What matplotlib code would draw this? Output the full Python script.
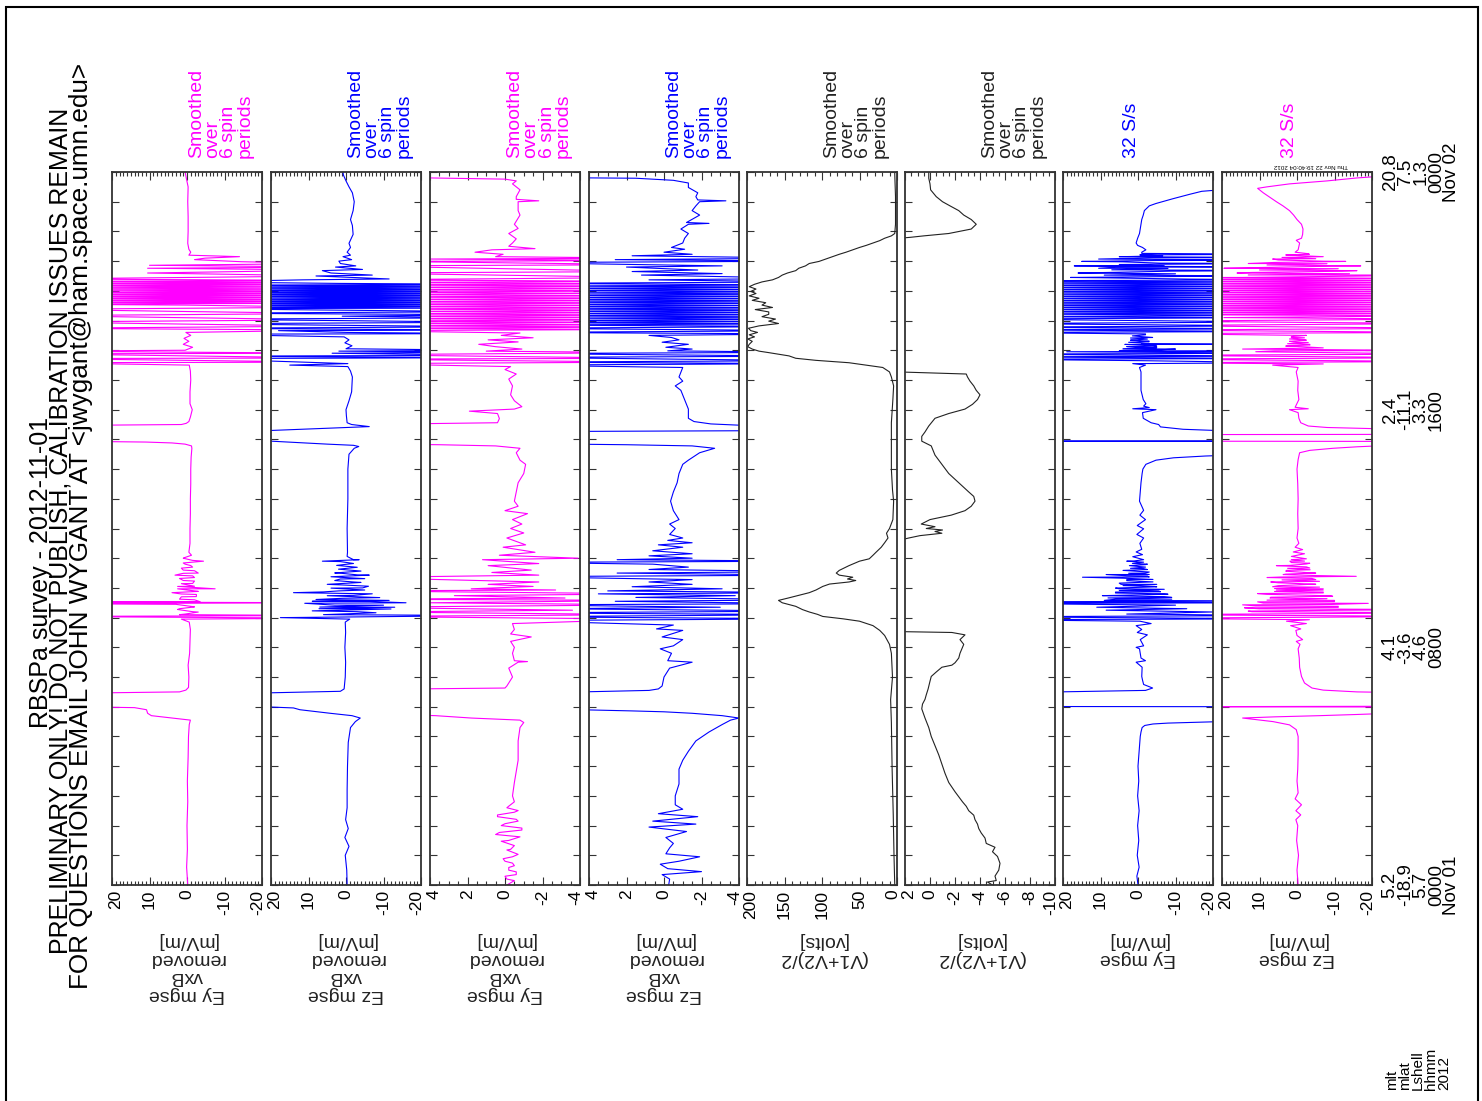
import numpy as np
import matplotlib.pyplot as plt
from matplotlib.patches import Rectangle
from matplotlib.transforms import ScaledTranslation

plt.rcParams['font.family'] = ['Liberation Sans', 'DejaVu Sans']

W, H = 1482, 1101

# (hour of day, value) pairs; points outside the axis range are clipped by the panel
EY_SMOOTH = [
    (0, -0.2), (0.6, 0.1), (1.2, -0.1), (2.0, 0.0), (2.8, -0.2), (3.5, -0.1), (4.3, -0.3), (5.0, -0.4),
    (5.4, -0.6), (5.55, -0.9), (5.62, 4), (5.7, 9.5), (5.78, 10.5), (5.9, 10.8), (5.97, 14), (6.02, 40),
    (6.44, 40), (6.5, 2), (6.56, 0.3), (6.65, -0.4), (7.0, -0.5), (7.4, -0.3), (7.8, -0.7), (8.2, -0.8),
    (8.6, -0.9), (8.85, -0.6), (8.95, 1.5), (8.98, -40), (9.04, 40), (9.07, -40), (9.12, 0.5), (9.2, -1.5),
    (9.3, 2), (9.38, -1), (9.47, 40), (9.5, -40), (9.53, 40), (9.6, -2), (9.7, 1.5), (9.78, -2.5), (9.84, 4),
    (9.9, -2), (9.97, -7.5), (10.05, 2.5), (10.15, -1.5), (10.25, 1), (10.35, -2), (10.43, 3.2), (10.5, -3),
    (10.6, 1), (10.7, -1.5), (10.8, 0.5), (10.9, -4.4), (11.0, 1), (11.1, -1.2), (11.2, -0.5), (11.5, -0.8),
    (12.0, -0.8), (12.5, -0.9), (13.0, -0.9), (13.5, -1.0), (14.0, -1.0), (14.4, -1.1), (14.7, -1.3),
    (14.78, -1.2), (14.84, 0.5), (14.88, 4), (14.91, 11), (14.95, 40), (15.46, 40), (15.5, 1.5), (15.54, 0.2),
    (15.6, -0.5), (15.75, -0.9), (16.0, -1.4), (16.2, -0.8), (16.6, -0.8), (17.0, -1.0), (17.3, -0.9),
    (17.5, -0.6), (17.58, 40), (17.6, -40), (17.72, 40), (17.74, -40), (17.88, 40), (17.9, -40), (17.97, 40),
    (18.0, 0.5), (18.1, -1.5), (18.2, 1), (18.3, -0.5), (18.4, 0.8), (18.5, -1), (18.6, 0.3), (18.68, -40),
    (20.4, 40), (20.5, -40), (20.6, 10.5), (20.7, -40), (20.76, 10.5), (20.8, -40), (20.86, 10), (20.92, -40),
    (20.98, -14.6), (21.05, -2), (21.1, -4.8), (21.15, -14), (21.2, -0.5), (21.3, -1.0), (21.4, -0.5),
    (21.6, -0.2), (22.0, -0.3), (22.5, -0.3), (23.0, -0.2), (23.5, -0.3), (23.8, 0.2), (24, 0.5),
]
EY_SMOOTH_FILL = [
    (9.1, 11.1, [2, -3, 2.5, -2, 3, -3.5, 2, -2.5, 1.5, -3, 2.5, -2, 1.5, -2, 2, -1.5, 1, -2, 1.5, -1,
                 1, -1.5, 0.8, -1.2]),
    (18.74, 19.52, [40, -40, 1.5, 40, -40, -1, 40, -40, 2, 40, -40, 0.5]),
    (19.55, 20.35, [40, -38, 40, -40, 36, -40, 40, -35, 40, -40, 38, -40, 40, -40, 32, -40,
                    40, -40, 40, -36, 40, -40, 34, -40, 40, -40]),
]

EZ_SMOOTH = [
    (0, -0.3), (0.5, -0.2), (1.0, 0.2), (1.3, -0.8), (1.6, 0.3), (1.9, -0.6), (2.2, 0.1), (2.6, -0.3),
    (3.2, -0.3), (4.0, -0.4), (4.8, -0.6), (5.3, -1.2), (5.5, -2.5), (5.62, -3.8), (5.7, -1.6), (5.78, 4.2),
    (5.9, 12.3), (5.96, 14), (6.0, 22), (6.05, 40), (6.42, 40), (6.47, 20), (6.52, 1.5), (6.6, 0.5),
    (7.0, 0.2), (7.5, 0.1), (8.0, 0.3), (8.5, 0.1), (8.85, 0.2), (8.95, -1), (9.0, 17.5), (9.07, -40),
    (9.1, 2), (9.2, -3), (9.3, 7.2), (9.35, -13), (9.42, 3), (9.5, -16), (9.55, 9), (9.58, -11.5), (9.65, 1),
    (9.75, -2), (9.84, 14), (9.9, 1.9), (10.0, -4.4), (10.1, 1), (10.2, -2), (10.3, 1.5), (10.43, -6.2),
    (10.5, 1.9), (10.6, -0.9), (10.75, 2), (10.9, 6.3), (10.95, -3.5), (11.06, -0.3), (11.2, -0.4),
    (12.0, -0.3), (13.0, -0.5), (14.0, -0.5), (14.5, -0.8), (14.7, -2.2), (14.76, -3.4), (14.8, -2),
    (14.84, 5), (14.88, 10.8), (14.94, 20), (14.98, 40), (15.25, 40), (15.3, 20), (15.43, -6.2), (15.5, -1.5),
    (15.56, -0.3), (15.8, -0.1), (16.0, 0), (16.3, -0.8), (16.6, -1.5), (17.1, -1.7), (17.3, -1.2),
    (17.45, -0.5), (17.5, 15), (17.55, -0.5), (17.72, 40), (17.75, -40), (17.8, 40), (17.83, -40),
    (17.9, 3.7), (17.93, -40), (17.97, 1.9), (18.0, -40), (18.05, 0), (18.15, -1.6), (18.25, 0.3),
    (18.35, -0.8), (18.45, 0.5), (18.54, 40), (18.56, -40), (18.6, -0.3), (18.66, 18), (18.68, -40),
    (20.3, 40), (20.37, 11.5), (20.4, -11.5), (20.5, 8), (20.53, -7), (20.6, 4), (20.68, 6.3), (20.72, -4.4),
    (20.8, 2.8), (20.84, -2.6), (20.92, 1.5), (21.0, 1.9), (21.05, -1.5), (21.15, 0.8), (21.2, -1.2),
    (21.3, -0.3), (21.46, -1.2), (21.6, -0.8), (21.9, -1.9), (22.2, -1.7), (22.4, -1.2), (22.7, -1.9),
    (23.0, -2.2), (23.3, -1.7), (23.5, -0.8), (23.7, 0), (23.9, 0.7), (24, 0.8),
]
EZ_SMOOTH_FILL = [
    (9.1, 10.95, [6, -8, 9, -12, 7, -10, 11, -6, 8, -9, 5, -7, 6, -5, 4, -6, 5, -4, 3, -5, 4, -3, 3, -4,
                  2, -3, 2.5, -2, 1.5, -2]),
    (18.74, 19.4, [40, -40, 3, 40, -40, -2, 40, -40, 1, -40, 40, -40, 2, 40]),
    (19.42, 20.25, [-40, 40, -40, 38, -40, 40, -36, 40, -40, 40, -40, 35, -40, 40, -40, 40, -38, 40,
                    -40, 40, -40, 36, -40, 40, -40, 40, -40, 2]),
]

EY = [
    (0, -0.3), (0.2, -0.1), (0.35, -0.6), (0.5, -0.2), (0.65, -0.5), (0.8, 0), (0.95, -0.4), (1.2, -0.3),
    (1.5, -0.2), (1.7, 0.5), (1.85, -0.9), (2.0, 0.2), (2.15, -0.7), (2.3, 0.4), (2.45, -0.5), (2.6, -0.1),
    (3.0, -0.4), (3.45, -0.5), (4.2, -0.7), (4.85, -0.7), (5.3, -0.8), (5.47, -1.0), (5.55, -0.8),
    (5.62, 1.8), (5.7, 3.7), (5.78, 8), (6.58, 8), (6.63, 0), (6.7, -0.1), (7.0, -0.4), (7.3, -0.2),
    (7.5, -0.7), (7.52, -1.2), (7.55, -0.5), (7.8, -0.4), (8.0, -0.5), (8.2, -0.3), (8.35, -1.4),
    (8.45, -0.3), (8.6, -0.5), (8.8, -0.4), (8.95, -8), (9.04, 8), (9.1, -8), (9.19, 7), (9.25, -3.6),
    (9.35, 8), (9.43, -8), (9.5, 4), (9.58, -8), (9.62, 8), (9.66, -3.2), (9.74, 2.7), (9.8, -8), (9.9, 8),
    (9.93, -2.7), (9.97, 1.8), (10.05, -1.5), (10.12, 0.9), (10.2, -1.8), (10.35, 8), (10.43, -1.8),
    (10.52, 0.7), (10.6, -1.4), (10.75, 0.9), (10.82, -1.8), (10.95, 1.2), (11.0, -3.9), (11.1, 0.3),
    (11.2, -1.6), (11.37, 0.1), (11.45, -1.1), (11.68, -0.1), (11.85, -1.0), (12.0, -0.3), (12.15, -0.9),
    (12.3, -0.4), (12.5, -1.2), (12.6, 0.0), (12.75, -0.7), (12.92, -0.5), (13.23, -0.6), (13.54, -0.7),
    (13.85, -1.0), (14.16, -1.1), (14.3, -0.8), (14.55, -0.6), (14.7, -0.8), (14.78, 0.5), (14.82, 3.5),
    (14.85, 8), (15.5, 8), (15.56, 0.4), (15.7, 0.3), (15.87, 0.4), (15.95, 1.9), (16.02, -0.5),
    (16.1, -0.9), (16.3, -0.5), (16.5, -0.3), (16.8, -0.4), (17.03, -0.2), (17.2, -0.6), (17.35, 0.0),
    (17.45, -0.3), (17.55, 8), (17.6, -8), (17.7, 8), (17.73, -8), (17.85, 8), (17.92, -8), (17.97, 1),
    (18.04, -0.9), (18.12, 0.5), (18.2, 1.4), (18.28, -0.7), (18.35, 0.9), (18.42, -1.5), (18.5, 0.2),
    (18.58, -0.8), (18.66, 8), (18.7, -8), (20.37, 8), (20.45, -8), (20.6, 8), (20.65, -8), (20.84, 8),
    (20.88, -8), (20.99, 6), (21.02, -8), (21.07, 4), (21.1, -8), (21.15, 0.5), (21.23, 0.1), (21.3, 1.6),
    (21.38, 0.7), (21.42, -1.6), (21.5, -0.2), (21.61, -0.4), (21.75, -0.6), (21.93, -0.2), (22.1, -0.7),
    (22.24, -0.5), (22.55, -0.8), (22.7, -0.7), (23.0, -0.7), (23.03, -1.8), (23.08, -0.6), (23.17, -0.6),
    (23.4, -0.8), (23.6, -0.4), (23.7, -0.6), (23.76, 0), (23.8, 4), (23.85, 8), (24, 8),
]
EY_FILL = [
    (0.0, 2.8, [-0.1, -0.5, 0.0, -0.6, -0.2, -0.4, 0.1, -0.7, -0.1, -0.5, 0.2, -0.8, 0.3, -0.9, 0.0,
                -0.6, 0.4, -0.7, -0.2, -0.5]),
    (18.74, 20.32, [8, -8, 7, -8, 8, -6, 8, -8, 8, -8, 7, -8, 8, -8, 6, -8, 8, -8, 8, -7, 8, -8, 8, -8,
                    7, -8, 8, -8, 8, -6, 8, -8, 8, -8, 7, -8, 8, -8, 8, -8]),
]

EZ = [
    (0, -0.25), (0.2, -0.3), (0.35, 0.1), (0.45, -2.0), (0.55, -0.2), (0.7, 0.2), (0.8, -0.8), (0.95, -1.9),
    (1.05, -0.1), (1.25, -0.3), (1.4, -0.5), (1.6, -0.1), (1.8, -1.2), (1.95, 0.8), (2.05, -1.7), (2.15, 0.6),
    (2.3, -1.8), (2.4, 0.3), (2.55, -1.0), (2.7, -0.6), (3.0, -0.6), (3.4, -0.8), (3.9, -0.8), (4.2, -1.0),
    (4.5, -1.3), (4.85, -1.7), (5.15, -2.4), (5.4, -3.1), (5.55, -3.55), (5.62, -4.0), (5.7, -3.1),
    (5.78, -1.5), (5.83, 0), (5.86, 1.7), (5.9, 4.5), (6.45, 8), (6.55, 0.8), (6.6, 0.3), (6.7, 0.1),
    (7.0, 0), (7.3, -0.3), (7.5, -1.5), (7.55, -0.2), (7.8, -0.4), (7.95, 0.2), (8.05, -0.5), (8.26, -1.0),
    (8.35, 0.1), (8.57, -1.0), (8.62, 0.4), (8.75, -0.5), (8.9, 8), (8.96, -8), (9.03, 8), (9.1, -8),
    (9.16, 8), (9.22, -8), (9.3, 6), (9.35, -3), (9.43, 8), (9.47, -8), (9.55, 2.6), (9.6, -8), (9.68, 1.5),
    (9.74, -3.8), (9.8, 3.5), (9.84, -8), (9.9, 3), (9.97, -3.1), (10.04, 1.7), (10.12, -1.5), (10.2, 0.8),
    (10.28, -1.5), (10.38, 8), (10.43, -8), (10.5, 2.5), (10.55, -8), (10.62, 0.8), (10.7, -1.3),
    (10.8, 0.6), (10.86, 8), (10.9, -8), (10.95, 2.5), (11.0, -1.5), (11.08, 0.8), (11.15, -1.5),
    (11.25, 0.6), (11.37, -1.0), (11.45, 0.3), (11.52, -1.5), (11.6, -0.2), (11.68, -1.0), (11.8, -0.3),
    (12.0, -0.6), (12.15, -0.3), (12.3, -0.8), (12.6, -0.5), (12.92, -0.35), (13.23, -0.5), (13.54, -0.7),
    (13.85, -0.8), (14.16, -1.0), (14.3, -1.3), (14.55, -1.9), (14.7, -2.7), (14.78, -1.5), (14.82, 2.0),
    (14.86, 8), (15.26, 8), (15.3, -8), (15.45, -5), (15.52, -2.5), (15.6, -1.6), (15.71, -1.3),
    (16.02, -1.3), (16.34, -1.1), (16.65, -0.9), (16.8, -0.6), (16.96, -1.0), (17.1, -0.8), (17.42, -1.0),
    (17.5, 8), (17.55, -8), (17.6, 8), (17.65, -8), (17.76, 8), (17.8, -8), (17.89, 8), (17.93, -8),
    (17.98, -0.2), (18.04, -1.5), (18.1, -0.1), (18.2, -1.3), (18.27, 0.1), (18.35, -0.8), (18.43, -0.4),
    (18.5, 0.8), (18.55, -8), (18.6, 8), (18.66, -8), (18.74, 8), (18.8, -8), (20.25, 8), (20.3, -8),
    (20.37, 0.8), (20.42, -8), (20.53, 1.2), (20.58, -3.1), (20.65, 1.7), (20.7, -1.8), (20.8, 2.0),
    (20.84, -3.1), (20.95, 8), (21.0, -8), (21.05, 2.6), (21.1, -8), (21.18, 1.7), (21.23, -1.5), (21.3, 0),
    (21.4, -1.1), (21.46, -0.4), (21.61, -1.0), (21.77, -1.1), (21.93, -1.3), (22.08, -0.9), (22.24, -1.3),
    (22.27, -2.4), (22.3, -1.2), (22.55, -1.9), (22.7, -1.5), (22.86, -1.7), (23.0, -1.9), (23.03, -3.3),
    (23.06, -1.8), (23.17, -1.7), (23.3, -1.8), (23.48, -1.3), (23.63, -1.3), (23.72, -0.5), (23.79, 1.5),
    (23.82, 8), (24, 8),
]
EZ_FILL = [
    (18.85, 20.2, [8, -8, 8, -7, 8, -8, 6, -8, 8, -8, 8, -8, 7, -8, 8, -8, 8, -6, 8, -8, 8, -8, 8, -7,
                   8, -8, 8, -8, 6, -8, 8, -8, 8, -8, 7, -8]),
]

VAVG_1 = [
    (0, 3), (1, 4), (2.36, 5), (3.9, 6.5), (5.47, 7.5), (6.24, 8.5), (7.0, 6), (7.8, 7.5), (8.1, 10),
    (8.4, 16.5), (8.57, 23), (8.73, 32), (8.88, 50), (8.96, 72), (9.04, 99), (9.11, 106), (9.19, 117),
    (9.27, 126), (9.38, 135), (9.5, 153), (9.58, 158), (9.66, 145), (9.75, 131), (9.84, 117), (9.93, 108),
    (10.05, 99), (10.13, 90), (10.2, 64), (10.25, 55), (10.3, 66), (10.36, 59), (10.43, 77), (10.5, 81),
    (10.59, 77), (10.75, 64), (10.9, 50), (10.98, 37), (11.1, 32), (11.2, 28), (11.37, 21), (11.52, 16.5),
    (11.68, 12), (11.84, 14), (12.0, 10), (12.3, 5.5), (12.92, 4.5), (13.3, 6), (14.0, 7.5), (14.78, 7.5),
    (15.56, 7.5), (16.34, 5.5), (16.8, 4.5), (17.1, 7.5), (17.27, 10), (17.42, 19), (17.58, 64),
    (17.66, 108), (17.73, 135), (17.81, 144), (17.92, 171), (17.97, 184), (18.04, 193), (18.12, 199),
    (18.2, 197), (18.3, 193), (18.38, 199), (18.45, 190), (18.52, 197), (18.6, 186), (18.66, 195),
    (18.74, 198), (18.82, 184), (18.9, 158), (18.98, 171), (19.05, 162), (19.13, 180), (19.21, 171),
    (19.29, 171), (19.37, 189), (19.44, 166), (19.52, 180), (19.6, 175), (19.68, 193), (19.75, 184),
    (19.83, 197), (19.91, 188), (19.98, 195), (20.06, 188), (20.14, 197), (20.22, 190), (20.3, 180),
    (20.37, 166), (20.45, 158), (20.53, 153), (20.6, 146), (20.68, 135), (20.76, 131), (20.84, 122),
    (20.92, 117), (20.99, 104), (21.07, 95), (21.15, 86), (21.23, 77), (21.3, 68), (21.38, 59), (21.46, 50),
    (21.53, 41), (21.61, 32), (21.69, 23), (21.77, 16.5), (21.85, 7.5), (21.93, 3), (22.24, 2), (22.55, 2),
    (23.17, 2), (23.94, 3), (24, 3),
]

VAVG_2 = [
    (0, -5.0), (0.1, -4.6), (0.15, -5.3), (0.3, -5.2), (0.5, -5.5), (0.73, -5.6), (0.96, -5.4), (1.12, -5.0),
    (1.27, -5.2), (1.4, -4.5), (1.58, -4.4), (1.75, -4.1), (1.9, -3.9), (2.05, -3.8), (2.2, -3.6),
    (2.35, -3.5), (2.5, -3.1), (2.65, -2.9), (2.8, -2.6), (3.14, -2.0), (3.45, -1.5), (3.76, -1.2),
    (4.07, -0.95), (4.38, -0.7), (4.69, -0.4), (5.0, -0.1), (5.3, 0.1), (5.62, 0.4), (5.93, 0.66),
    (6.09, 0.6), (6.25, 0.4), (6.4, 0.3), (6.6, 0.15), (6.86, 0.0), (7.02, -0.1), (7.17, -0.5),
    (7.33, -0.95), (7.4, -1.75), (7.48, -2.0), (7.64, -2.3), (7.8, -2.4), (7.95, -2.55), (8.1, -2.7),
    (8.26, -2.4), (8.42, -2.8), (8.5, -1.75), (8.53, 2.5), (11.6, 2.5), (11.68, 1.7), (11.76, 0.8),
    (11.84, -0.95), (11.9, -0.4), (11.95, -1.0), (12.0, 0.3), (12.06, -0.4), (12.15, 0.7), (12.3, 0.0),
    (12.45, -1.7), (12.6, -2.8), (12.75, -3.3), (12.92, -3.6), (13.08, -3.5), (13.23, -3.1), (13.54, -2.3),
    (13.85, -1.5), (14.16, -0.95), (14.47, -0.4), (14.78, -0.1), (14.94, 0.66), (15.1, 0.66), (15.25, 0.4),
    (15.45, 0.1), (15.71, -0.4), (15.87, -1.5), (16.02, -2.8), (16.18, -3.4), (16.34, -3.8), (16.5, -4.0),
    (16.65, -3.7), (16.8, -3.5), (16.96, -3.2), (17.1, -3.0), (17.2, -2.9), (17.27, 2.5), (21.77, 2.5),
    (21.8, 1.6), (21.85, 0.5), (21.93, -1.5), (22.08, -3.3), (22.24, -3.7), (22.4, -3.3), (22.55, -2.7),
    (22.7, -2.3), (22.86, -1.6), (23.0, -1.0), (23.17, -0.5), (23.4, -0.05), (23.6, 0.0), (23.79, 0.1),
    (24, 0.1),
]

EY32 = [
    (0, 0), (0.3, 0.3), (0.6, -0.3), (1.0, 0.2), (1.5, -0.2), (2.0, 0.1), (2.5, -0.3), (3.0, 0.1),
    (3.5, -0.2), (4.0, 0), (4.5, -0.3), (4.84, -0.5), (5.0, -0.6), (5.15, -0.8), (5.3, -1.1), (5.37, -1.8),
    (5.42, -4), (5.45, -8), (5.47, -14), (5.5, -22), (6.0, -40), (6.01, 40), (6.46, 40), (6.55, -2),
    (6.63, -3.9), (6.75, -1.5), (6.9, -1.2), (7.02, -1.0), (7.33, -1.1), (7.5, 0.5), (7.55, -2),
    (7.64, -0.8), (7.8, -0.6), (7.95, -0.4), (8.0, 0.5), (8.05, -1.5), (8.26, -0.6), (8.42, -2.5),
    (8.5, 0.2), (8.6, -1.0), (8.73, 0.5), (8.8, -3.5), (8.88, -0.5), (8.93, 40), (8.96, -40), (9.03, 40),
    (9.07, -40), (9.12, 3), (9.19, -20), (9.25, 8.5), (9.3, -13), (9.35, 11), (9.42, -10), (9.48, 40),
    (9.5, -40), (9.53, 40), (9.56, -40), (9.62, 6), (9.68, -9), (9.74, 9.5), (9.8, -7), (9.86, 6),
    (9.9, -5.5), (9.97, 5), (10.05, -4.5), (10.12, 4.5), (10.2, -3.5), (10.28, 3), (10.36, 14.8),
    (10.4, -2.5), (10.45, 8.5), (10.5, -2), (10.59, 4), (10.65, -1.5), (10.75, 2.3), (10.8, -2.5),
    (10.9, 3), (10.95, -1.5), (11.05, 1.4), (11.12, -1.2), (11.21, 0.5), (11.3, -1.0), (11.5, -0.5),
    (11.68, -1.5), (11.8, 0.3), (11.99, -1.5), (12.1, 0.2), (12.3, -2.0), (12.45, -0.5), (12.61, -1.5),
    (12.92, -0.4), (13.23, -0.6), (13.54, -0.8), (13.85, -1.1), (14.0, -1.3), (14.16, -2.1), (14.3, -4.8),
    (14.38, -9.5), (14.44, -18), (14.47, -25), (14.93, -40), (14.94, 40), (14.95, -40), (15.28, -25),
    (15.34, -12), (15.42, -6), (15.5, -5.5), (15.56, -3.5), (15.71, -1.4), (15.9, -1.2), (16.0, -4.8),
    (16.03, 1.4), (16.07, -3), (16.12, -1.5), (16.2, -2.1), (16.34, -1.4), (16.65, -0.8), (16.96, -0.8),
    (17.27, -0.8), (17.42, -0.4), (17.5, -2.0), (17.55, 1.4), (17.58, -40), (17.65, -0.5), (17.7, 40),
    (17.72, -40), (17.78, 40), (17.8, -40), (17.87, 40), (17.9, -40), (17.95, 19), (17.97, -40), (18.0, 4),
    (18.04, -10), (18.1, 0.5), (18.14, -5), (18.2, -40), (18.22, -1), (18.3, -3), (18.35, 0.5),
    (18.43, -3.9), (18.48, 0.9), (18.55, -2), (18.6, 40), (18.63, -40), (18.69, 40), (18.72, -40),
    (18.78, 40), (18.82, -40), (18.9, 40), (18.95, -40), (19.05, 40), (19.1, -40), (19.13, 40),
    (19.18, -40), (20.33, 40), (20.37, -40), (20.45, 18), (20.5, -40), (20.6, 16), (20.68, -40),
    (20.76, 10.5), (20.8, -40), (20.84, 17), (20.92, -40), (20.99, 15), (21.03, -40), (21.07, 10.5),
    (21.12, -40), (21.15, 5), (21.18, -6.6), (21.21, -0.5), (21.23, -40), (21.26, -1), (21.3, -1.0),
    (21.38, -2.1), (21.46, -1.2), (21.53, 0.1), (21.61, 0.5), (21.77, 0.1), (21.93, -0.4), (22.24, -0.8),
    (22.4, -1.0), (22.55, -1.4), (22.7, -1.7), (22.86, -3.0), (22.94, -4.8), (23.1, -9.3), (23.25, -13.8),
    (23.35, -17), (23.4, -22), (24, -40),
]
EY32_FILL = [
    (9.58, 10.95, [9, -9, 8, -7, 7, -8, 6, -6, 5, -7, 6, -5, 4, -5, 5, -4, 3, -4, 4, -3, 3, -3, 2.5, -3,
                   2, -2.5, 2, -2, 1.5, -2, 1.5, -1.5, 1, -1.5]),
    (17.98, 18.52, [5, -6, 4, -5, 3, -4, 3.5, -3, 2.5, -3, 2, -2.5, 2, -2, 1.5, -2]),
    (19.22, 20.3, [40, -40, 38, -40, 40, -40, 40, -36, 40, -40, 40, -40, 37, -40, 40, -40, 40, -40, 35,
                   -40, 40, -40, 40, -38, 40, -40, 40, -40, 36, -40]),
    (20.35, 21.2, [12, -14, 10, -12, 9, -10, 8, -9, 7, -8, 6, -7, 5, -6, 4, -5, 3, -4, 2, -3]),
]

EZ32 = [
    (0, -0.3), (0.5, 0), (1.0, -0.4), (1.5, 0.1), (2.0, -0.2), (2.2, 0.3), (2.36, -1.0), (2.5, 0.3),
    (2.7, -1.2), (2.9, 0.5), (3.1, -0.3), (3.5, 0), (3.9, -0.2), (4.4, -0.3), (4.69, -0.3), (5.0, -0.3),
    (5.23, 0.2), (5.39, 2.0), (5.5, 6.4), (5.56, 10.5), (5.62, 14.5), (5.66, 6), (5.7, -6), (5.74, -16),
    (5.78, -25), (5.99, -40), (6.0, 40), (6.02, -40), (6.45, -40), (6.5, -16), (6.56, -7), (6.63, -4),
    (6.8, -2.0), (7.02, -1.2), (7.33, -0.7), (7.64, -0.6), (7.95, -0.3), (8.1, -0.8), (8.2, 0.2),
    (8.26, -1.5), (8.4, 0.0), (8.57, 0.3), (8.62, -1.0), (8.73, 1.7), (8.8, -2.5), (8.88, 2.8), (8.93, -3.3),
    (8.98, 40), (9.04, -40), (9.1, 40), (9.16, -40), (9.22, 13), (9.27, -40), (9.33, 14), (9.38, -11),
    (9.43, 14.5), (9.48, -19), (9.53, 10.5), (9.58, -10), (9.66, 7.2), (9.72, -9.5), (9.81, 10.5),
    (9.86, -7), (9.93, 5.5), (9.97, -7), (10.04, 6.5), (10.12, -3.4), (10.2, 7), (10.28, -5), (10.35, 8),
    (10.39, -15.8), (10.45, 3.7), (10.5, -5), (10.59, 2.8), (10.67, -3.4), (10.75, 5.5), (10.83, -3.4),
    (10.9, 1.9), (10.98, -2.5), (11.06, 1.5), (11.15, -2), (11.21, 1.0), (11.29, -1.5), (11.37, 0.5),
    (11.5, -0.5), (11.68, 0), (12.0, -0.3), (12.5, -0.2), (13.0, -0.3), (13.5, -0.2), (14.0, 0),
    (14.32, -0.3), (14.55, -0.7), (14.63, -3.4), (14.7, -9.6), (14.75, -16), (14.8, -25), (14.93, -40),
    (14.94, 40), (15.16, 40), (15.17, -40), (15.3, -40), (15.4, -8), (15.45, -3), (15.56, -1.0),
    (15.71, -0.5), (15.9, -0.3), (16.0, 2), (16.03, -3), (16.08, 0.5), (16.34, -0.5), (16.65, -0.2),
    (16.96, -0.3), (17.27, 0.2), (17.42, -0.3), (17.5, 6.5), (17.54, -7), (17.58, 40), (17.62, -40),
    (17.7, 40), (17.75, -40), (17.83, 40), (17.87, -40), (17.95, 11), (17.99, -40), (18.04, 14.5),
    (18.08, -7), (18.14, 1.9), (18.2, -3.3), (18.28, 1.0), (18.35, -2.0), (18.43, 1.5), (18.5, -2.5),
    (18.56, 40), (18.6, -40), (18.68, 40), (18.74, -40), (18.83, 40), (18.9, -40), (18.98, 40), (19.05, -40),
    (19.1, 19.5), (19.16, -40), (20.45, 35), (20.53, -40), (20.6, 16), (20.68, -16), (20.76, 19.5),
    (20.84, -17), (20.92, 13), (20.99, -13), (21.07, 6.5), (21.15, -7), (21.2, 2), (21.23, -3.3),
    (21.3, 0.5), (21.38, -0.3), (21.61, -0.7), (21.7, 0.2), (21.77, -1.2), (21.9, -1.5), (22.08, -1.6),
    (22.24, -1.2), (22.4, 0), (22.55, 0.9), (22.7, 2.0), (22.86, 3.75), (23.0, 5.5), (23.17, 7.5),
    (23.3, 9), (23.45, 10.5), (23.5, 8), (23.6, 2), (23.7, -8), (23.8, -16), (23.88, -25), (24, -40),
]
EZ32_FILL = [
    (9.2, 11.0, [12, -12, 10, -11, 11, -9, 9, -10, 8, -8, 7, -9, 8, -7, 6, -7, 6, -6, 5, -5, 5, -6, 4, -4,
                 4, -5, 3, -3, 3, -3.5, 2.5, -2.5, 2, -2.5, 1.5, -2, 1.5, -1.5]),
    (17.98, 18.5, [6, -5, 4, -4, 3, -3.5, 2.5, -3, 2, -2.5, 2, -2, 1.5, -1.5]),
    (19.2, 20.42, [40, -40, 38, -40, 40, -40, 40, -36, 40, -40, 40, -40, 37, -40, 40, -40, 40, -40, 35,
                   -40, 40, -40, 40, -38, 40, -40, 40, -40, 36, -40, 40, -40, 40, -40]),
    (20.45, 21.25, [15, -15, 13, -14, 12, -12, 10, -11, 9, -9, 8, -8, 6, -7, 5, -5, 4, -4, 3, -3]),
]

TICKS_20 = [20, 10, 0, -10, -20]
LABELS_20 = ['20', '10', '0', '-10', '-20']
TICKS_4 = [4, 2, 0, -2, -4]
LABELS_4 = ['4', '2', '0', '-2', '-4']
TICKS_200 = [200, 150, 100, 50, 0]
LABELS_200 = ['200', '150', '100', '50', '0']
TICKS_2 = [2, 0, -2, -4, -6, -8, -10]
LABELS_2 = ['2', '0', '-2', '-4', '-6', '-8', '-10']

HOURS = list(range(0, 25))
TIME_TICKS = [0, 8, 16, 24]
TIME_LABELS = [
    ['5.2', '-18.9', '5.7', '0000', 'Nov 01'],
    ['4.1', '-3.6', '4.6', '0800'],
    ['2.4', '-11.1', '3.3', '1600'],
    ['20.8', '7.5', '1.3', '0000', 'Nov 02'],
]
TIME_ROWS = ['mlt', 'mlat', 'Lshell', 'hhmm', '2012']

SMOOTH_NOTE = ['Smoothed', 'over', '6 spin', 'periods']
RATE_NOTE = ['32 S/s']

MAGENTA = '#ff00ff'
BLUE = '#0000ff'
BLACK = '#222222'

PANELS = [
    dict(data=EY_SMOOTH, fill=EY_SMOOTH_FILL, color=MAGENTA, lim=(20, -20), ticks=TICKS_20,
         labels=LABELS_20, minor=1, note=SMOOTH_NOTE, ylabel=['Ey mgse', 'vxB', 'removed', '[mV/m]']),
    dict(data=EZ_SMOOTH, fill=EZ_SMOOTH_FILL, color=BLUE, lim=(20, -20), ticks=TICKS_20,
         labels=LABELS_20, minor=1, note=SMOOTH_NOTE, ylabel=['Ez mgse', 'vxB', 'removed', '[mV/m]']),
    dict(data=EY, fill=EY_FILL, color=MAGENTA, lim=(4, -4), ticks=TICKS_4,
         labels=LABELS_4, minor=0.5, note=SMOOTH_NOTE, ylabel=['Ey mgse', 'vxB', 'removed', '[mV/m]']),
    dict(data=EZ, fill=EZ_FILL, color=BLUE, lim=(4, -4), ticks=TICKS_4,
         labels=LABELS_4, minor=0.5, note=SMOOTH_NOTE, ylabel=['Ez mgse', 'vxB', 'removed', '[mV/m]']),
    dict(data=VAVG_1, fill=[], color=BLACK, lim=(200, 0), ticks=TICKS_200,
         labels=LABELS_200, minor=10, note=SMOOTH_NOTE, ylabel=['(V1+V2)/2', '[volts]']),
    dict(data=VAVG_2, fill=[], color=BLACK, lim=(2, -10), ticks=TICKS_2,
         labels=LABELS_2, minor=0.5, note=SMOOTH_NOTE, ylabel=['(V1+V2)/2', '[volts]']),
    dict(data=EY32, fill=EY32_FILL, color=BLUE, lim=(20, -20), ticks=TICKS_20,
         labels=LABELS_20, minor=1, note=RATE_NOTE, ylabel=['Ey mgse', '[mV/m]']),
    dict(data=EZ32, fill=EZ32_FILL, color=MAGENTA, lim=(20, -20), ticks=TICKS_20,
         labels=LABELS_20, minor=1, note=RATE_NOTE, ylabel=['Ez mgse', '[mV/m]']),
]

# panel geometry in pixels
LEFTS = [112, 271, 430, 589, 747, 905, 1063, 1222]
PW = 150
TOP, BOTTOM = 172, 885


def series(points, fills):
    t = [p[0] for p in points]
    v = [p[1] for p in points]
    for t0, t1, vals in fills:
        t += list(np.linspace(t0, t1, len(vals)))
        v += list(vals)
    order = np.argsort(t, kind='stable')
    return np.array(t)[order], np.array(v)[order]


def ypix(hour):
    return BOTTOM - hour * (BOTTOM - TOP) / 24.0


fig = plt.figure(figsize=(W / 100, H / 100), dpi=100)


def put(x, y, s, **kw):
    fig.text(x / W, 1 - y / H, s, **kw)


for i, p in enumerate(PANELS):
    left = LEFTS[i]
    ax = fig.add_axes([left / W, 1 - BOTTOM / H, PW / W, (BOTTOM - TOP) / H])
    t, v = series(p['data'], p['fill'])
    ax.plot(v, t, color=p['color'], lw=0.8)
    ax.set_xlim(*p['lim'])
    ax.set_ylim(0, 24)
    ax.set_xticks(p['ticks'], p['labels'])
    ax.xaxis.set_minor_locator(plt.MultipleLocator(p['minor']))
    ax.set_yticks(HOURS)
    ax.tick_params(axis='x', which='both', direction='in', top=True, bottom=True,
                   color='#333333', width=0.8)
    ax.tick_params(axis='x', which='major', length=6, labelsize=12.5, pad=3.5, labelrotation=90)
    ax.tick_params(axis='x', which='minor', length=3)
    ax.tick_params(axis='y', which='major', direction='in', left=True, right=True, length=5,
                   width=0.8, color='#333333', labelleft=False)
    for sp in ax.spines.values():
        sp.set_linewidth(1.3)
        sp.set_color('#333333')

    # edge labels sit a little inside the panel so neighbours do not collide
    ticklabels = ax.get_xticklabels()
    for lab, dx in ((ticklabels[0], 4), (ticklabels[-1], -4)):
        lab.set_transform(lab.get_transform() + ScaledTranslation(dx / 100, 0, fig.dpi_scale_trans))

    # note above the panel, rotated with the page
    if len(p['note']) > 1:
        x0 = left + PW - 65
        for k, s in enumerate(p['note']):
            put(x0 + k * 16, 158, s, rotation=90, ha='center', va='bottom',
                fontsize=14, color=p['color'])
    else:
        put(left + 68, 158, p['note'][0], rotation=90, ha='center', va='bottom',
            fontsize=14, color=p['color'])

    # quantity label under the panel, upside down
    n = len(p['ylabel'])
    for k, s in enumerate(p['ylabel']):
        put(left + PW / 2, 940 + (n - 1 - k) * 18, s, rotation=180, ha='center', va='center',
            fontsize=14, color='#222222')

# orbit/time annotation along the time axis
for hour, rows in zip(TIME_TICKS, TIME_LABELS):
    for k, s in enumerate(rows):
        put(1390 + k * 15.5, ypix(hour), s, rotation=90, ha='center', va='center', fontsize=13.5)
for k, s in enumerate(TIME_ROWS):
    put(1392 + k * 13, 1090, s, rotation=90, ha='center', va='bottom', fontsize=11)

put(1311, 165, 'Thu Nov 22 19:40:04 2012', rotation=180, ha='center', va='center', fontsize=4.5)

put(41, 572, 'RBSPa survey - 2012-11-01', rotation=90, ha='center', va='center', fontsize=18)
put(61, 531, 'PRELIMINARY ONLY! DO NOT PUBLISH, CALIBRATION ISSUES REMAIN',
    rotation=90, ha='center', va='center', fontsize=18)
put(81, 526, 'FOR QUESTIONS EMAIL JOHN WYGANT AT <jwygant@ham.space.umn.edu>',
    rotation=90, ha='center', va='center', fontsize=18.8)

# page frame
fig.add_artist(Rectangle((6 / W, -0.05), (1478 - 6) / W, 1.05 - 7 / H, transform=fig.transFigure,
                         fill=False, lw=1.5, edgecolor='black'))

fig.savefig('out.png', dpi=100)
